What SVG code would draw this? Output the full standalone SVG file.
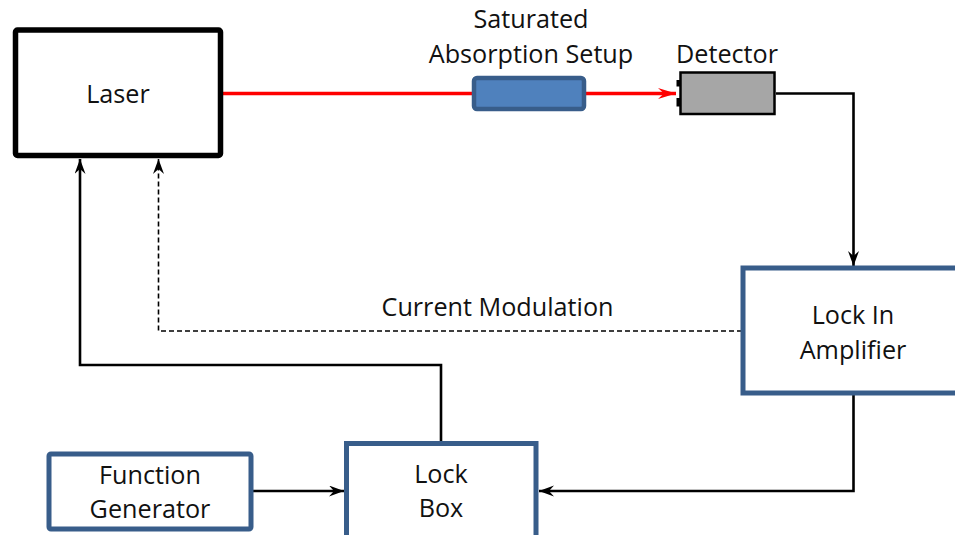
<svg xmlns="http://www.w3.org/2000/svg" width="955" height="535" viewBox="0 0 955 535">
<defs>
<style>
text{font-family:"Open Sans","Noto Sans",sans-serif;font-size:25.2px;fill:#111;text-anchor:middle}
.blue{fill:#fff;stroke:#385D8A;stroke-width:5}
.wire{fill:none;stroke:#000;stroke-width:2.6}
.dash{fill:none;stroke:#000;stroke-width:1.6;stroke-dasharray:5 3}
</style>
<marker id="ah" markerUnits="userSpaceOnUse" markerWidth="16" markerHeight="12" refX="15" refY="5.5" orient="auto">
<path d="M0,0 L15,5.5 L0,11 L5,5.5 z" fill="#000"/>
</marker>
<marker id="ahr" markerUnits="userSpaceOnUse" markerWidth="20" markerHeight="12" refX="18" refY="5.5" orient="auto">
<path d="M0,0 L18,5.5 L0,11 L6,5.5 z" fill="#f00"/>
</marker>
</defs>
<g id="connectors">
<line x1="222" y1="93.5" x2="474" y2="93.5" stroke="#f00" stroke-width="3.5"/>
<line x1="584" y1="93.5" x2="676" y2="93.5" stroke="#f00" stroke-width="3.5" marker-end="url(#ahr)"/>
<polyline class="wire" points="776,93.5 853.5,93.5 853.5,266" marker-end="url(#ah)"/>
<polyline class="dash" points="742,331 158.5,331 158.5,159" marker-end="url(#ah)"/>
<polyline class="wire" points="441,443 441,365 80,365 80,159" marker-end="url(#ah)"/>
<line class="wire" x1="253" y1="491" x2="344" y2="491" marker-end="url(#ah)"/>
<polyline class="wire" points="853.5,395 853.5,491 539,491" marker-end="url(#ah)"/>
</g>
<g id="laser">
<rect x="15.5" y="30" width="205" height="125.5" rx="2" fill="#fff" stroke="#000" stroke-width="5.5"/>
<text x="118" y="103">Laser</text>
</g>
<g id="saturated-absorption">
<rect x="474" y="78" width="110" height="31" rx="3" fill="#4F81BD" stroke="#385D8A" stroke-width="4.5"/>
<text x="531" y="28">Saturated</text>
<text x="531" y="63">Absorption Setup</text>
</g>
<g id="detector">
<rect x="676.5" y="80" width="4" height="6.5" fill="#000"/>
<rect x="676.5" y="98" width="4" height="8.5" fill="#000"/>
<rect x="680.5" y="72.5" width="94" height="41.5" fill="#A6A6A6" stroke="#000" stroke-width="2.5"/>
<text x="727" y="63">Detector</text>
</g>
<g id="lock-in">
<rect class="blue" x="743" y="268" width="230" height="125"/>
<text x="853" y="324">Lock In</text>
<text x="853" y="359">Amplifier</text>
</g>
<g id="lock-box">
<rect class="blue" x="346.5" y="443.5" width="189.5" height="110"/>
<text x="441" y="483">Lock</text>
<text x="441" y="517">Box</text>
</g>
<g id="function-generator">
<rect class="blue" x="49" y="454" width="202" height="75" rx="2"/>
<text x="150" y="484">Function</text>
<text x="150" y="518">Generator</text>
</g>
<g id="label-current">
<text x="497.5" y="316">Current Modulation</text>
</g>
</svg>
